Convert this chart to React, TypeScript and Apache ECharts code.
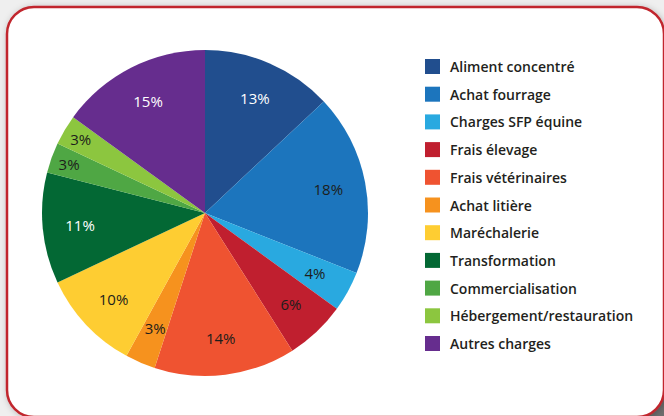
import React, { useEffect, useRef } from "react";
import * as echarts from "echarts";

const categories = [
  "Aliment concentré",
  "Achat fourrage",
  "Charges SFP équine",
  "Frais élevage",
  "Frais vétérinaires",
  "Achat litière",
  "Maréchalerie",
  "Transformation",
  "Commercialisation",
  "Hébergement/restauration",
  "Autres charges",
];
const shares = [13, 18, 4, 6, 14, 3, 10, 11, 3, 3, 15];
const colors = [
  "#214e8e",
  "#1c75bd",
  "#29a9e0",
  "#c01f2f",
  "#ef5331",
  "#f6921e",
  "#fecd32",
  "#036834",
  "#4fa744",
  "#8cc63f",
  "#662d8e",
];
const whiteLabelNames = ["Aliment concentré", "Transformation", "Autres charges"];
const outerLabelNames = ["Commercialisation", "Hébergement/restauration"];

export default function App() {
  const ref = useRef<HTMLDivElement>(null);
  useEffect(() => {
    document.body.style.margin = "0";
    if (!ref.current) return;
    const chart = echarts.init(ref.current, null, { renderer: "svg" });
    const center = [205, 213];
    const R = 163;
    const labelStyle = (name: string, show: boolean) => ({
      show,
      color: whiteLabelNames.includes(name) ? "#ffffff" : "#1d1d1b",
    });
    const visibleData = categories.map((name, i) => ({
      name,
      value: shares[i],
      itemStyle: { color: colors[i] },
    }));
    const innerLabelData = categories.map((name, i) => ({
      name,
      value: shares[i],
      label: labelStyle(name, !outerLabelNames.includes(name)),
    }));
    const outerLabelData = categories.map((name, i) => ({
      name,
      value: shares[i],
      label: labelStyle(name, outerLabelNames.includes(name)),
    }));
    const labelCommon = {
      position: "inside",
      formatter: "{c}%",
      fontFamily: "Open Sans",
      fontSize: 15,
      fontWeight: 500,
    };
    const labelSeriesBase = {
      type: "pie",
      center,
      startAngle: 90,
      clockwise: true,
      silent: true,
      avoidLabelOverlap: false,
      itemStyle: { color: "rgba(0,0,0,0)", borderWidth: 0 },
      labelLine: { show: false },
      emphasis: { disabled: true },
      z: 3,
    };
    chart.setOption({
      animation: false,
      backgroundColor: "#efefef",
      graphic: [
        {
          type: "rect",
          z: -2,
          shape: { x: 620, y: 370, width: 44, height: 46 },
          style: { fill: "#6d6d6d" },
        },
        {
          type: "rect",
          z: -1,
          shape: { x: 7, y: 7, width: 657, height: 410, r: 27 },
          style: {
            fill: "#ffffff",
            stroke: "#c1272d",
            lineWidth: 2.5,
            shadowBlur: 6,
            shadowColor: "rgba(0,0,0,0.25)",
            shadowOffsetX: 1,
            shadowOffsetY: 1,
          },
        },
      ],
      legend: {
        orient: "vertical",
        left: 425,
        top: 59,
        padding: 0,
        itemWidth: 15,
        itemHeight: 15,
        itemGap: 12.7,
        icon: "rect",
        selectedMode: false,
        data: categories,
        textStyle: {
          fontFamily: "Open Sans",
          fontSize: 14,
          fontWeight: 600,
          color: "#231f20",
          padding: [0, 0, 0, 5],
        },
      },
      series: [
        {
          type: "pie",
          center,
          radius: [0, R],
          startAngle: 90,
          clockwise: true,
          silent: true,
          label: { show: false },
          labelLine: { show: false },
          itemStyle: { borderWidth: 0 },
          emphasis: { disabled: true },
          data: visibleData,
        },
        {
          ...labelSeriesBase,
          radius: [82, R],
          label: labelCommon,
          data: innerLabelData,
        },
        {
          ...labelSeriesBase,
          radius: [120, R],
          label: labelCommon,
          data: outerLabelData,
        },
      ],
      tooltip: { show: false },
    });
    return () => chart.dispose();
  }, []);
  return <div ref={ref} style={{ width: 664, height: 416 }} />;
}
